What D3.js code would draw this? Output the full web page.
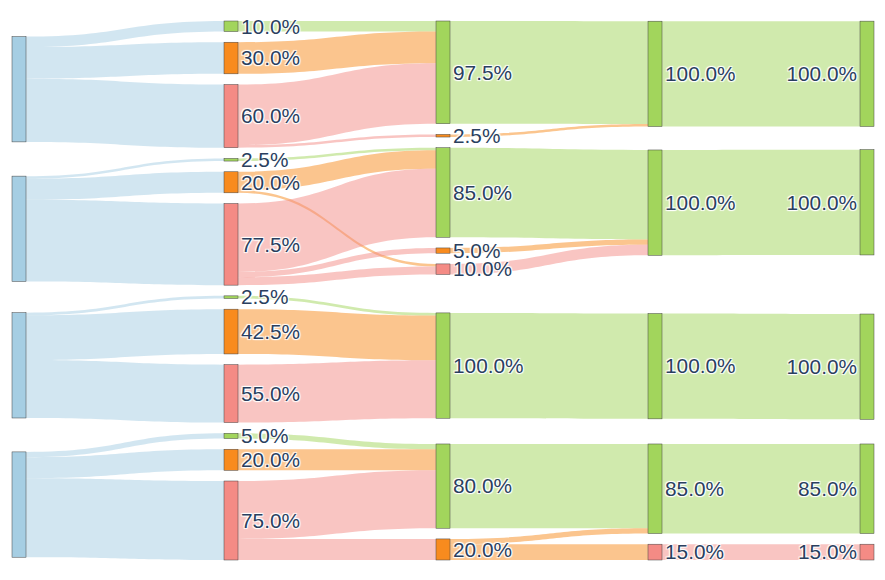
<!DOCTYPE html>
<html>
<head>
<meta charset="utf-8">
<script src="https://cdn.jsdelivr.net/npm/d3@7"></script>
<style>
  body { margin: 0; background: #fff; }
  .label { font-family: "Liberation Sans", Arial, sans-serif; font-size: 20.8px; fill: #2a3f5f;
    text-shadow: 1px 1px 1px #fff, -1px -1px 1px #fff, 1px -1px 1px #fff, -1px 1px 1px #fff; }
</style>
</head>
<body>
<svg id="chart"></svg>
<script>
// node id -> colour category (4 separate flows, A..D), listed top to bottom per column
const nodeKinds = [
  ["A0", "blue"], ["A1g", "green"], ["A1o", "orange"], ["A1r", "red"], ["A2g", "green"], ["A2o", "orange"], ["A3g", "green"], ["A4g", "green"],
  ["B0", "blue"], ["B1g", "green"], ["B1o", "orange"], ["B1r", "red"], ["B2g", "green"], ["B2o", "orange"], ["B2r", "red"], ["B3g", "green"], ["B4g", "green"],
  ["C0", "blue"], ["C1g", "green"], ["C1o", "orange"], ["C1r", "red"], ["C2g", "green"], ["C3g", "green"], ["C4g", "green"],
  ["D0", "blue"], ["D1g", "green"], ["D1o", "orange"], ["D1r", "red"], ["D2g", "green"], ["D2o", "orange"], ["D3g", "green"], ["D3r", "red"], ["D4g", "green"], ["D4r", "red"]
];

// flows in percent of each group
const flowsA = [
  ["A0", "A1g", 10], ["A0", "A1o", 30], ["A0", "A1r", 60],
  ["A1g", "A2g", 10], ["A1o", "A2g", 30], ["A1r", "A2g", 57.5], ["A1r", "A2o", 2.5],
  ["A2g", "A3g", 97.5], ["A2o", "A3g", 2.5],
  ["A3g", "A4g", 100]
];
const flowsB = [
  ["B0", "B1g", 2.5], ["B0", "B1o", 20], ["B0", "B1r", 77.5],
  ["B1g", "B2g", 2.5], ["B1o", "B2g", 17.5], ["B1o", "B2r", 2.5],
  ["B1r", "B2g", 65], ["B1r", "B2o", 5], ["B1r", "B2r", 7.5],
  ["B2g", "B3g", 85], ["B2o", "B3g", 5], ["B2r", "B3g", 10],
  ["B3g", "B4g", 100]
];
const flowsC = [
  ["C0", "C1g", 2.5], ["C0", "C1o", 42.5], ["C0", "C1r", 55],
  ["C1g", "C2g", 2.5], ["C1o", "C2g", 42.5], ["C1r", "C2g", 55],
  ["C2g", "C3g", 100],
  ["C3g", "C4g", 100]
];
const flowsD = [
  ["D0", "D1g", 5], ["D0", "D1o", 20], ["D0", "D1r", 75],
  ["D1g", "D2g", 5], ["D1o", "D2g", 20], ["D1r", "D2g", 55], ["D1r", "D2o", 20],
  ["D2g", "D3g", 80], ["D2o", "D3g", 5], ["D2o", "D3r", 15],
  ["D3g", "D4g", 85], ["D3r", "D4r", 15]
];

const kindColor = { blue: "#a6cee3", green: "#a2d55c", orange: "#f88b1e", red: "#f48b85" };

const width = 885;
const height = 580;
const extent = { x0: 12, x1: 874, y0: 21, y1: 560 };
const nodeWidth = 14;
const py = 10.7;

const svg = d3.select("#chart").attr("width", width).attr("height", height);

const nodes = nodeKinds.map(([id, kind]) => ({ id, kind }));
const links = [...flowsA, ...flowsB, ...flowsC, ...flowsD].map(([source, target, value]) => ({ source, target, value }));

// ---- sankey layout (d3-sankey style, justify, input order kept) ----
const byId = new Map(nodes.map((d) => [d.id, d]));
nodes.forEach((d) => { d.sourceLinks = []; d.targetLinks = []; });
links.forEach((l) => {
  l.source = byId.get(l.source);
  l.target = byId.get(l.target);
  l.source.sourceLinks.push(l);
  l.target.targetLinks.push(l);
});
nodes.forEach((d) => {
  d.value = Math.max(d3.sum(d.sourceLinks, (l) => l.value), d3.sum(d.targetLinks, (l) => l.value));
});

let current = new Set(nodes);
let depth = 0;
while (current.size) {
  const next = new Set();
  for (const d of current) {
    d.depth = depth;
    for (const l of d.sourceLinks) next.add(l.target);
  }
  depth++;
  current = next;
}
const nCols = depth;

const xScale = d3.scaleLinear().domain([0, nCols - 1]).range([extent.x0, extent.x1 - nodeWidth]);
nodes.forEach((d) => {
  d.layer = d.sourceLinks.length ? d.depth : nCols - 1;
  d.x0 = xScale(d.layer);
  d.x1 = d.x0 + nodeWidth;
});
const columns = d3.range(nCols).map((i) => nodes.filter((d) => d.layer === i));

const ky = d3.min(columns, (c) => (extent.y1 - extent.y0 - (c.length - 1) * py) / d3.sum(c, (d) => d.value));
const yScale = d3.scaleLinear().domain([0, 1]).range([0, ky]);

const byBreadth = (a, b) => a.y0 - b.y0;
const byTarget = (a, b) => byBreadth(a.target, b.target);
const bySource = (a, b) => byBreadth(a.source, b.source);

function reorderLinks() {
  nodes.forEach((d) => { d.sourceLinks.sort(byTarget); d.targetLinks.sort(bySource); });
}

columns.forEach((c) => {
  let y = extent.y0;
  c.forEach((d) => {
    d.y0 = y;
    d.y1 = y + yScale(d.value);
    y = d.y1 + py;
    d.sourceLinks.forEach((l) => { l.width = yScale(l.value); });
  });
  const spare = (extent.y1 - y + py) / (c.length + 1);
  c.forEach((d, i) => { d.y0 += spare * (i + 1); d.y1 += spare * (i + 1); });
});
reorderLinks();

function targetTop(source, target) {
  let y = source.y0 - ((source.sourceLinks.length - 1) * py) / 2;
  for (const l of source.sourceLinks) { if (l.target === target) break; y += l.width + py; }
  for (const l of target.targetLinks) { if (l.source === source) break; y -= l.width; }
  return y;
}
function sourceTop(source, target) {
  let y = target.y0 - ((target.targetLinks.length - 1) * py) / 2;
  for (const l of target.targetLinks) { if (l.source === source) break; y += l.width + py; }
  for (const l of source.sourceLinks) { if (l.target === target) break; y -= l.width; }
  return y;
}
function reorderNodeLinks(d) {
  d.targetLinks.forEach((l) => l.source.sourceLinks.sort(byTarget));
  d.sourceLinks.forEach((l) => l.target.targetLinks.sort(bySource));
}
function pushDown(c, y, i, alpha) {
  for (; i < c.length; ++i) {
    const d = c[i];
    const dy = (y - d.y0) * alpha;
    if (dy > 1e-6) { d.y0 += dy; d.y1 += dy; }
    y = d.y1 + py;
  }
}
function pushUp(c, y, i, alpha) {
  for (; i >= 0; --i) {
    const d = c[i];
    const dy = (d.y1 - y) * alpha;
    if (dy > 1e-6) { d.y0 -= dy; d.y1 -= dy; }
    y = d.y0 - py;
  }
}
function resolveCollisions(c, alpha) {
  const i = c.length >> 1;
  const mid = c[i];
  pushUp(c, mid.y0 - py, i - 1, alpha);
  pushDown(c, mid.y1 + py, i + 1, alpha);
  pushUp(c, extent.y1, c.length - 1, alpha);
  pushDown(c, extent.y0, 0, alpha);
}
function move(d, target, alpha) {
  const dy = (target - d.y0) * alpha;
  d.y0 += dy;
  d.y1 += dy;
  reorderNodeLinks(d);
}

const iterations = 32;
for (let k = 0; k < iterations; ++k) {
  const alpha = Math.pow(0.99, k);
  const beta = Math.max(1 - alpha, (k + 1) / iterations);
  for (let i = columns.length - 2; i >= 0; --i) {
    for (const s of columns[i]) {
      let y = 0, w = 0;
      for (const l of s.sourceLinks) {
        const v = l.value * (l.target.layer - s.layer);
        y += sourceTop(s, l.target) * v;
        w += v;
      }
      if (w > 0) move(s, y / w, alpha);
    }
    resolveCollisions(columns[i], beta);
  }
  for (let i = 1; i < columns.length; ++i) {
    for (const t of columns[i]) {
      let y = 0, w = 0;
      for (const l of t.targetLinks) {
        const v = l.value * (t.layer - l.source.layer);
        y += targetTop(l.source, t) * v;
        w += v;
      }
      if (w > 0) move(t, y / w, alpha);
    }
    resolveCollisions(columns[i], beta);
  }
}
reorderLinks();
nodes.forEach((d) => {
  let ys = d.y0, yt = d.y0;
  d.sourceLinks.forEach((l) => { l.y0 = ys + l.width / 2; ys += l.width; });
  d.targetLinks.forEach((l) => { l.y1 = yt + l.width / 2; yt += l.width; });
});

// ---- drawing ----
function ribbon(l) {
  const x0 = l.source.x1, x1 = l.target.x0;
  const xm = d3.interpolateNumber(x0, x1)(0.5);
  const h = l.width / 2;
  const p = d3.path();
  p.moveTo(x0, l.y0 - h);
  p.bezierCurveTo(xm, l.y0 - h, xm, l.y1 - h, x1, l.y1 - h);
  p.lineTo(x1, l.y1 + h);
  p.bezierCurveTo(xm, l.y1 + h, xm, l.y0 + h, x0, l.y0 + h);
  p.closePath();
  return p.toString();
}

svg.append("g")
  .selectAll("path")
  .data(links)
  .join("path")
  .attr("d", ribbon)
  .attr("fill", (l) => kindColor[l.source.kind])
  .attr("fill-opacity", 0.5);

svg.append("g")
  .selectAll("rect")
  .data(nodes)
  .join("rect")
  .attr("x", (d) => d.x0)
  .attr("y", (d) => d.y0)
  .attr("width", (d) => d.x1 - d.x0)
  .attr("height", (d) => Math.max(0.5, d.y1 - d.y0))
  .attr("fill", (d) => kindColor[d.kind])
  .attr("stroke", "#444")
  .attr("stroke-width", 0.5);

const fmt = (v) => d3.format(".1f")(v) + "%";

svg.append("g")
  .selectAll("text")
  .data(nodes.filter((d) => d.layer > 0))
  .join("text")
  .attr("class", "label")
  .attr("x", (d) => (d.layer === nCols - 1 ? d.x0 - 3 : d.x1 + 3))
  .attr("y", (d) => (d.y0 + d.y1) / 2)
  .attr("dy", "0.35em")
  .attr("text-anchor", (d) => (d.layer === nCols - 1 ? "end" : "start"))
  .text((d) => fmt(d.value));
</script>
</body>
</html>
